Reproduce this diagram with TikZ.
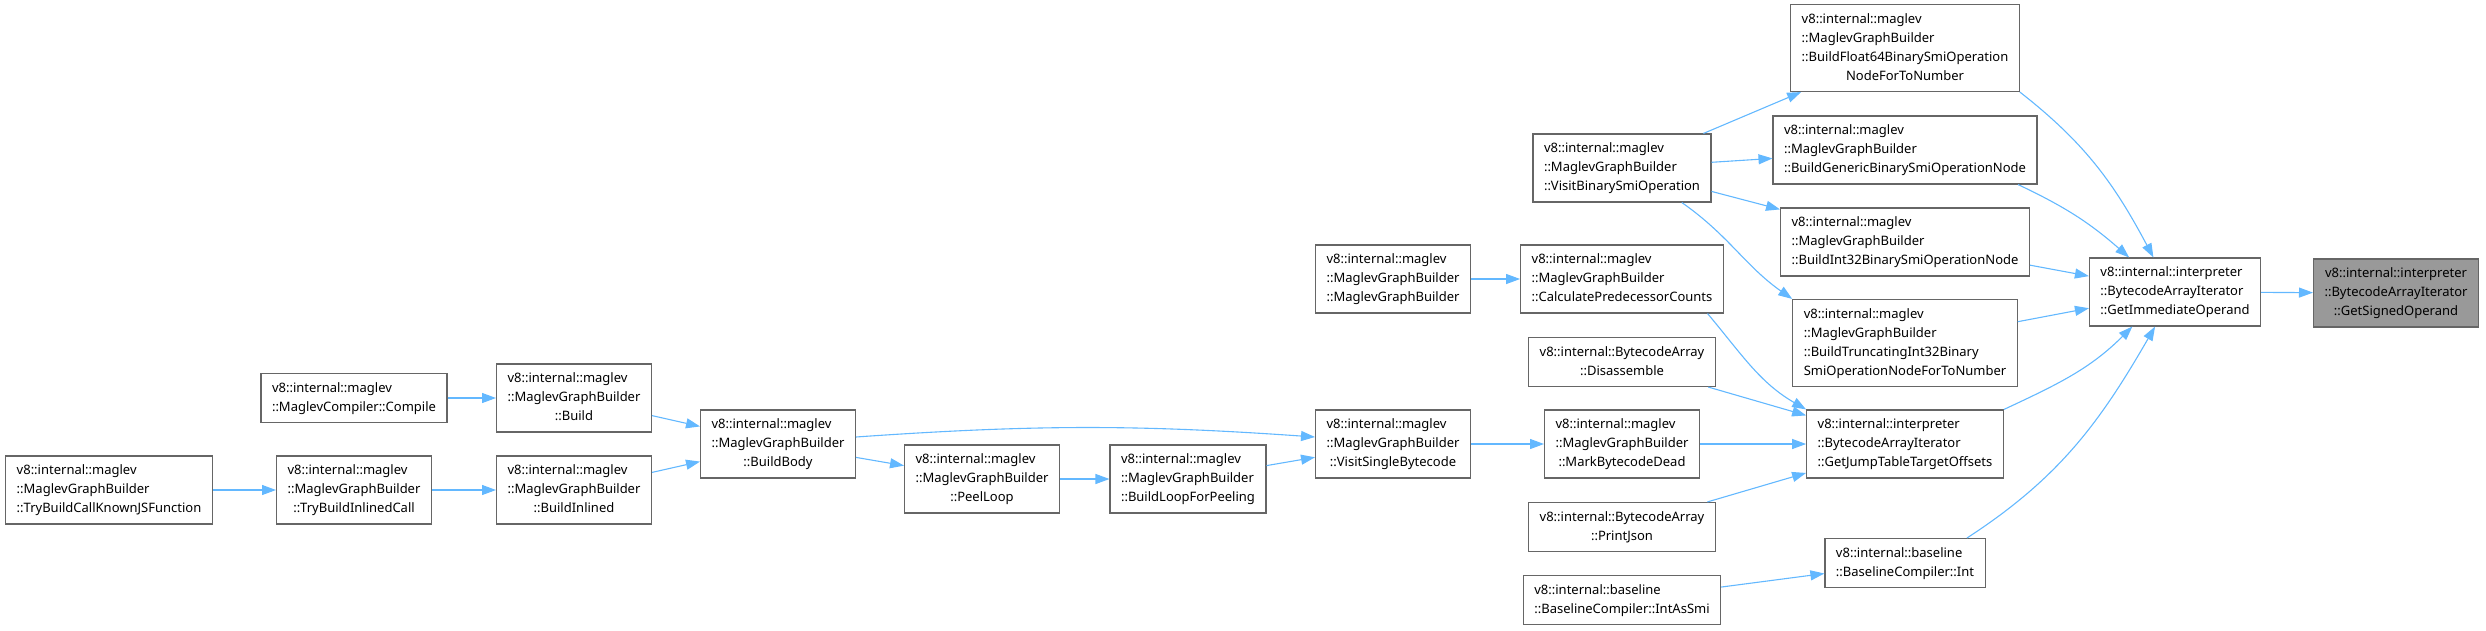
\documentclass[tikz,border=0pt]{standalone}
\usepackage{fontspec}
\setmainfont{Noto Sans}
\usetikzlibrary{arrows.meta}
\definecolor{edgeblue}{HTML}{63B8FF}
\definecolor{boxgray}{HTML}{666666}
\definecolor{focusgray}{HTML}{999999}
\newcommand{\fnlab}[2]{\begin{tabular}{@{}l@{}}#1\\\multicolumn{1}{@{}c@{}}{#2}\end{tabular}}
\newcommand{\fnmid}[1]{\begin{tabular}{@{}c@{}}#1\end{tabular}}

\begin{document}
\begin{tikzpicture}[x=1pt,y=-1pt,font=\fontsize{13}{19}\selectfont,
  fnbox/.style={draw=boxgray,line width=1.1pt,fill=white,inner xsep=11pt,inner ysep=5.5pt},
  focus/.style={fnbox,fill=focusgray},
  call/.style={draw=edgeblue,line width=1.1pt,-{Triangle[length=14pt,width=10pt]}}]
  \useasboundingbox (0,0) rectangle (2486,630);

  % maglev build path
  \node[fnbox] (tbck) at (109,490) {\fnlab{v8::internal::maglev\\::MaglevGraphBuilder}{::TryBuildCallKnownJSFunction}};
  \node[fnbox] (tbic) at (354,490) {\fnlab{v8::internal::maglev\\::MaglevGraphBuilder}{::TryBuildInlinedCall}};
  \node[fnbox] (compile) at (354,398) {\fnlab{v8::internal::maglev}{::MaglevCompiler::Compile}};
  \node[fnbox] (build) at (574,398) {\fnlab{v8::internal::maglev\\::MaglevGraphBuilder}{::Build}};
  \node[fnbox] (inlined) at (574,490) {\fnlab{v8::internal::maglev\\::MaglevGraphBuilder}{::BuildInlined}};
  \node[fnbox] (body) at (778,444) {\fnlab{v8::internal::maglev\\::MaglevGraphBuilder}{::BuildBody}};
  \node[fnbox] (peel) at (982,479) {\fnlab{v8::internal::maglev\\::MaglevGraphBuilder}{::PeelLoop}};
  \node[fnbox] (loop) at (1188,479) {\fnlab{v8::internal::maglev\\::MaglevGraphBuilder}{::BuildLoopForPeeling}};
  \node[fnbox] (visit) at (1393,444) {\fnlab{v8::internal::maglev\\::MaglevGraphBuilder}{::VisitSingleBytecode}};
  \node[fnbox] (ctor) at (1393,279) {\fnlab{v8::internal::maglev\\::MaglevGraphBuilder}{::MaglevGraphBuilder}};

  % middle column
  \node[fnbox] (vbso) at (1622,168) {\fnlab{v8::internal::maglev\\::MaglevGraphBuilder}{::VisitBinarySmiOperation}};
  \node[fnbox] (calc) at (1622,279) {\fnlab{v8::internal::maglev\\::MaglevGraphBuilder}{::CalculatePredecessorCounts}};
  \node[fnbox] (disasm) at (1622,362) {\fnlab{v8::internal::BytecodeArray}{::Disassemble}};
  \node[fnbox] (dead) at (1622,444) {\fnlab{v8::internal::maglev\\::MaglevGraphBuilder}{::MarkBytecodeDead}};
  \node[fnbox] (json) at (1622,527) {\fnlab{v8::internal::BytecodeArray}{::PrintJson}};
  \node[fnbox] (intsmi) at (1622,600) {\fnlab{v8::internal::baseline}{::BaselineCompiler::IntAsSmi}};

  % direct callers
  \node[fnbox] (f64) at (1905,48) {\fnlab{v8::internal::maglev\\::MaglevGraphBuilder\\::BuildFloat64BinarySmiOperation}{NodeForToNumber}};
  \node[fnbox] (generic) at (1905,150) {\fnlab{v8::internal::maglev\\::MaglevGraphBuilder}{::BuildGenericBinarySmiOperationNode}};
  \node[fnbox] (int32) at (1905,242) {\fnlab{v8::internal::maglev\\::MaglevGraphBuilder}{::BuildInt32BinarySmiOperationNode}};
  \node[fnbox] (trunc) at (1905,343) {\fnlab{v8::internal::maglev\\::MaglevGraphBuilder\\::BuildTruncatingInt32Binary}{SmiOperationNodeForToNumber}};
  \node[fnbox] (jump) at (1905,444) {\fnlab{v8::internal::interpreter\\::BytecodeArrayIterator}{::GetJumpTableTargetOffsets}};
  \node[fnbox] (bint) at (1905,563) {\fnlab{v8::internal::baseline}{::BaselineCompiler::Int}};

  % operand readers
  \node[fnbox] (imm) at (2175,292) {\fnlab{v8::internal::interpreter\\::BytecodeArrayIterator}{::GetImmediateOperand}};
  \node[focus] (signed) at (2396,293) {\fnmid{v8::internal::interpreter\\::BytecodeArrayIterator\\::GetSignedOperand}};

  % calls
  \draw[call] (tbck) -- (tbic);
  \draw[call] (tbic) -- (inlined);
  \draw[call] (compile) -- (build);
  \draw[call] (build) -- (body);
  \draw[call] (inlined) -- (body);
  \draw[call] (body) -- (peel);
  \draw[call] ([yshift=7pt]body.east) to[bend left=4] ([yshift=7pt]visit.west);
  \draw[call] (peel) -- (loop);
  \draw[call] (loop) -- (visit);
  \draw[call] (visit) -- (dead);
  \draw[call] (ctor) -- (calc);
  \draw[call] (calc.-22) to[out=-50,in=150] (jump.north west);
  \draw[call] (vbso) -- (f64);
  \draw[call] (vbso) -- (generic);
  \draw[call] (vbso) -- (int32);
  \draw[call] (vbso.-30) to[out=-35,in=145] (trunc.north west);
  \draw[call] (disasm) -- (jump);
  \draw[call] (dead) -- (jump);
  \draw[call] (json) -- (jump);
  \draw[call] (intsmi) -- (bint);
  \draw[call] (f64.south east) to[out=-38,in=118] (imm.122);
  \draw[call] (generic.-17.5) to[bend left=8] (imm.143);
  \draw[call] (int32) -- (imm);
  \draw[call] (trunc) -- (imm);
  \draw[call] (jump.north east) to[out=25,in=-135] (imm.-141);
  \draw[call] (bint.22) to[out=33,in=-120] (imm.-120);
  \draw[call] (imm) -- (signed);
\end{tikzpicture}
\end{document}
